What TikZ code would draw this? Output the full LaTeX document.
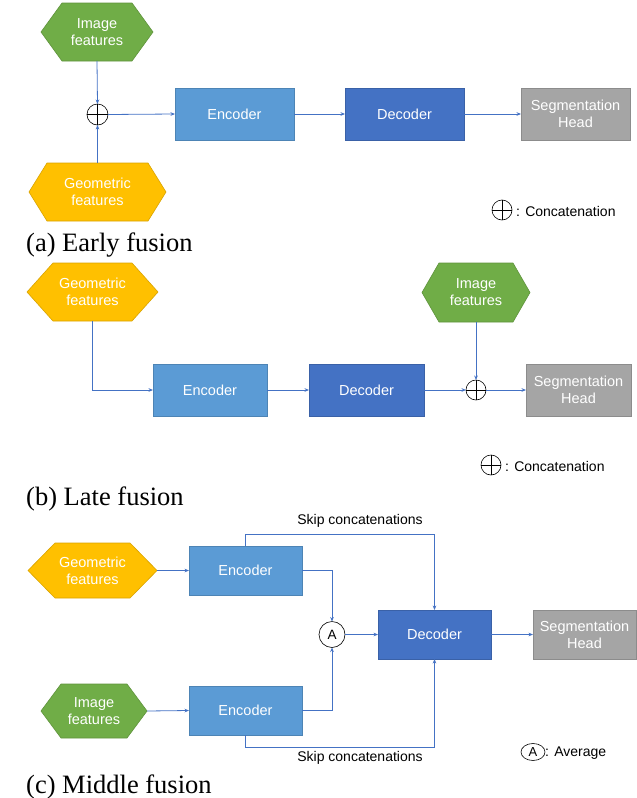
\documentclass[tikz,border=0pt]{standalone}
\usepackage{fontspec}
\setmainfont{Liberation Serif}
\setsansfont{Liberation Sans}
\usetikzlibrary{arrows.meta,shapes.geometric,backgrounds}
\definecolor{imggreen}{HTML}{70AD47}
\definecolor{geoyellow}{HTML}{FFC000}
\definecolor{encblue}{HTML}{5B9BD5}
\definecolor{decblue}{HTML}{4472C4}
\definecolor{headgray}{HTML}{A5A5A5}
\definecolor{lineblue}{HTML}{4472C4}
\tikzset{
  lbl/.style={font=\sffamily\fontsize{14.5}{17}\selectfont, text=white, align=center, inner sep=0pt, outer sep=0pt},
  blockbox/.style={lbl, rectangle, line width=0.6pt},
  hexbox/.style={lbl, rectangle},
  conn/.style={draw=lineblue, line width=0.8pt, -{Stealth[length=4.5pt,width=3.6pt]}},
  oplus/.style={circle, draw=black, line width=0.6pt, inner sep=0pt, outer sep=0pt, minimum size=20pt,
    path picture={\draw[line width=0.6pt] (path picture bounding box.north) -- (path picture bounding box.south)
      (path picture bounding box.west) -- (path picture bounding box.east);}},
  avgnode/.style={circle, draw=black, line width=0.6pt, inner sep=0pt, outer sep=0pt, minimum size=26pt,
    font=\sffamily\fontsize{13.5}{15}\selectfont},
  legtext/.style={font=\sffamily\fontsize{14}{17}\selectfont, inner sep=0pt, anchor=west},
  captext/.style={font=\fontsize{26.5}{30}\selectfont, inner sep=0pt, anchor=west},
}
% name, cx, cy, width, height, inset, colour, text
\newcommand\hexnode[8]{%
  \node[hexbox, minimum width=#4pt, minimum height=#5pt] (#1) at (#2,#3) {#8};
  \begin{scope}[on background layer]
    \filldraw[fill=#7, draw=#7!85!black, line width=0.6pt]
      (#1.west) -- ([xshift=#6pt]#1.north west) -- ([xshift=-#6pt]#1.north east)
      -- (#1.east) -- ([xshift=-#6pt]#1.south east) -- ([xshift=#6pt]#1.south west) -- cycle;
  \end{scope}}
\begin{document}
\begin{tikzpicture}[x=1pt,y=-1pt]
\useasboundingbox (0,0) rectangle (637,798);
% ---------------- (a) Early fusion ----------------
\hexnode{aimg}{97}{32}{112}{58}{21}{imggreen}{Image\\features}
\hexnode{ageo}{97.5}{192}{137}{58}{18}{geoyellow}{Geometric\\features}
\node[oplus, minimum size=21pt] (acat) at (97.5,114.5) {};
\node[blockbox, fill=encblue, draw=encblue!85!black, minimum width=119pt, minimum height=52pt] (aenc) at (234.5,114) {Encoder};
\node[blockbox, fill=decblue, draw=decblue!85!black, minimum width=119pt, minimum height=52pt] (adec) at (404.5,114) {Decoder};
\node[blockbox, fill=headgray, draw=headgray!85!black, minimum width=109pt, minimum height=52pt] (ahead) at (575.5,114) {Segmentation\\Head};
\draw[conn] (aimg.south) -- (acat.north);
\draw[conn] (ageo.north) -- (acat.south);
\draw[conn] (acat.east) -- (aenc.west);
\draw[conn] (aenc) -- (adec);
\draw[conn] (adec) -- (ahead);
\node[oplus] (aleg) at (502,210) {};
\node[legtext] (alegt) at (516,211) {: Concatenation};
\node[captext] (acap) at (26,245.5) {(a) Early fusion};
% ---------------- (b) Late fusion ----------------
\hexnode{bgeo}{92.5}{292}{131}{58}{26}{geoyellow}{Geometric\\features}
\hexnode{bimg}{476}{292.5}{108}{59}{17}{imggreen}{Image\\features}
\node[blockbox, fill=encblue, draw=encblue!85!black, minimum width=114pt, minimum height=52pt] (benc) at (210,390) {Encoder};
\node[blockbox, fill=decblue, draw=decblue!85!black, minimum width=115pt, minimum height=52pt] (bdec) at (366.5,390) {Decoder};
\node[oplus] (bcat) at (476,390) {};
\node[blockbox, fill=headgray, draw=headgray!85!black, minimum width=105pt, minimum height=52pt] (bhead) at (578.5,390) {Segmentation\\Head};
\draw[conn] (bgeo.south) |- (benc.west);
\draw[conn] (benc) -- (bdec);
\draw[conn] (bdec) -- (bcat);
\draw[conn] (bimg.south) -- (bcat.north);
\draw[conn] (bcat) -- (bhead);
\node[oplus] (bleg) at (491,465) {};
\node[legtext] (blegt) at (505,466) {: Concatenation};
\node[captext] (bcap) at (26,498.5) {(b) Late fusion};
% ---------------- (c) Middle fusion ----------------
\hexnode{cgeo}{92.5}{570.5}{129}{55}{27}{geoyellow}{Geometric\\features}
\hexnode{cimg}{94}{711}{106}{54}{20}{imggreen}{Image\\features}
\node[blockbox, fill=encblue, draw=encblue!85!black, minimum width=113pt, minimum height=49pt] (cenca) at (245.5,570.5) {Encoder};
\node[blockbox, fill=encblue, draw=encblue!85!black, minimum width=113pt, minimum height=49pt] (cencb) at (245.5,710.5) {Encoder};
\node[avgnode] (cavg) at (332,634.5) {A};
\node[blockbox, fill=decblue, draw=decblue!85!black, minimum width=113pt, minimum height=49pt] (cdec) at (434.5,634.5) {Decoder};
\node[blockbox, fill=headgray, draw=headgray!85!black, minimum width=103pt, minimum height=49pt] (chead) at (584.5,634.5) {Segmentation\\Head};
\draw[conn] (cgeo.east) -- (cenca.west);
\draw[conn] (cimg.east) -- (cencb.west);
\draw[conn] (cenca.east) -| (cavg.north);
\draw[conn] (cencb.east) -| (cavg.south);
\draw[conn] (cavg) -- (cdec);
\draw[conn] (cenca.north) -- ++(0,-12) -| (cdec.north);
\draw[conn] (cencb.south) -- ++(0,12) -| (cdec.south);
\draw[conn] (cdec) -- (chead);
\node[legtext, anchor=center] (cskipa) at (360,521) {Skip concatenations};
\node[legtext, anchor=center] (cskipb) at (360,758) {Skip concatenations};
\node[ellipse, draw=black, line width=0.6pt, inner sep=0pt, minimum width=24pt, minimum height=17pt,
  font=\sffamily\fontsize{13}{15}\selectfont] (cleg) at (533,752) {A};
\node[legtext] (clegt) at (545,753) {: Average};
\node[captext] (ccap) at (26,787) {(c) Middle fusion};
\end{tikzpicture}
\end{document}
